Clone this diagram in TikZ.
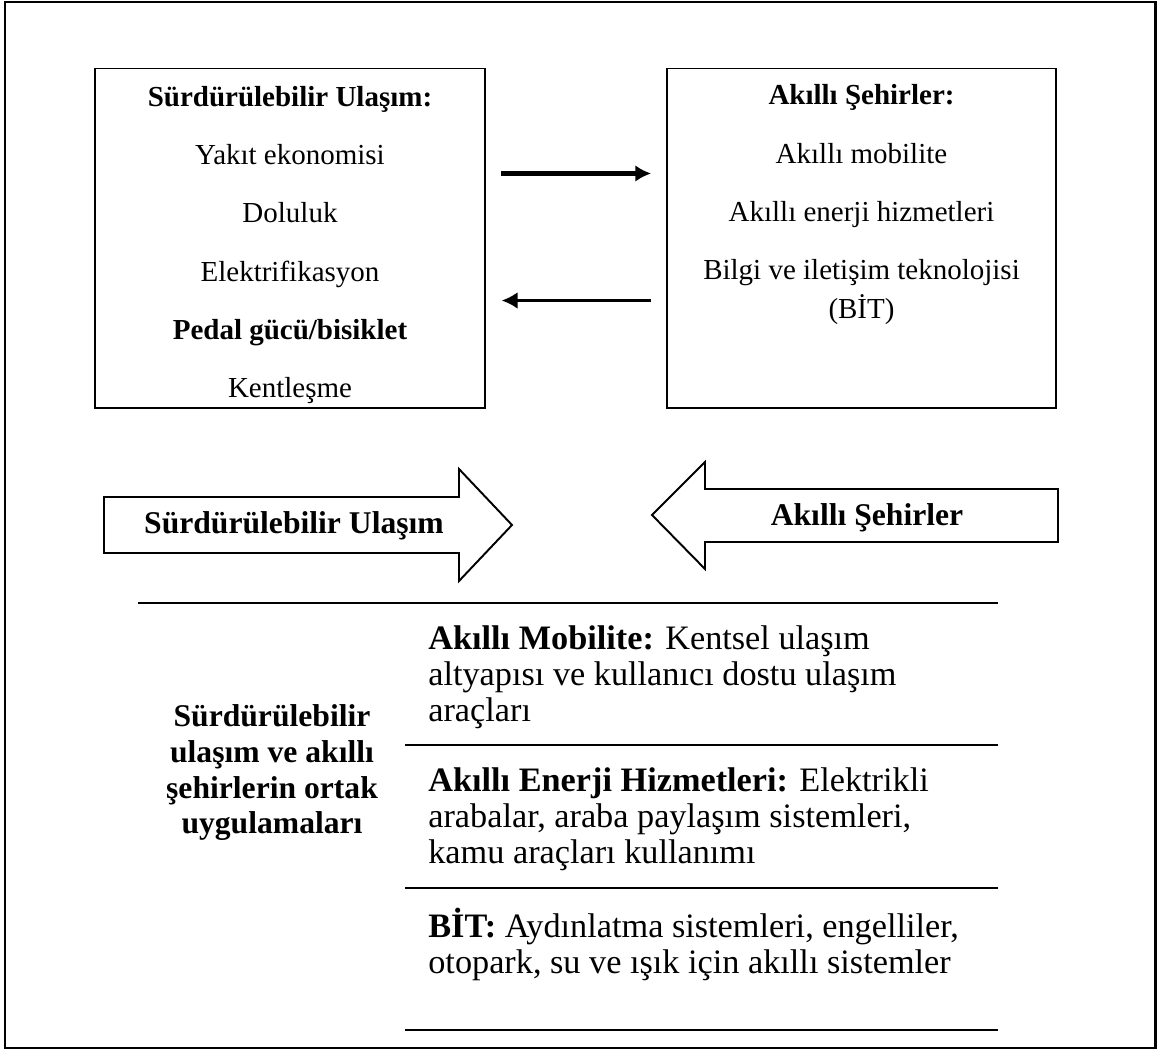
\documentclass[tikz,border=0pt]{standalone}
\usepackage{fontspec}
\setmainfont{Liberation Serif}
\usepackage{tikz}
\usetikzlibrary{arrows.meta,positioning}

\begin{document}
\begin{tikzpicture}[
    x=0.02cm, y=-0.02cm,
    >={Latex[length=9pt,width=9.5pt]},
    block/.style={
		rectangle,
		draw=black,
		line width=1.1pt,
		minimum width=7.8cm,
		minimum height=6.8cm,
		inner sep=0pt
	},
	itemtext/.style={
		inner sep=0pt,
		align=center,
		font=\fontsize{16.5}{33.2}\selectfont
	},
	bigarrow/.style={
		draw=black,
		line width=1.1pt,
		fill=white
	},
	arrowtext/.style={
		inner sep=0pt,
		font=\fontsize{18}{20}\selectfont\bfseries
	},
	rowtext/.style={
		anchor=west,
		inner sep=0pt,
		align=left,
		font=\fontsize{19.5}{20.5}\selectfont
	},
	rule/.style={
		line width=1.7pt
	}
  ]
    \useasboundingbox (0,0) rectangle (1160,1057);
    \draw[line width=1.7pt] (5,2) rectangle (1155,1048);

    % We start by placing the blocks
  \node [block] (sust) at (290,238.5) {};
  \node [itemtext] (susttext) at (290,245)
 {%
  \textbf{Sürdürülebilir Ulaşım:}\\
  Yakıt ekonomisi\\
  Doluluk\\
  Elektrifikasyon\\
  \textbf{Pedal gücü/bisiklet}\\
  Kentleşme
 };

  \node [block, minimum width=7.78cm] (smart) at (861.5,238.5) {};
  \node [itemtext] (smarttext) at (861.5,205)
 {%
  \textbf{Akıllı Şehirler:}\\
  Akıllı mobilite\\
  Akıllı enerji hizmetleri\\
  Bilgi ve iletişim teknolojisi\\[-11pt]
  (BİT)
 };

 \draw [->, line width=2.3pt, shorten <=8.5pt, shorten >=8.5pt] ([yshift=37pt]sust.east) -- ([yshift=37pt]smart.west);
 \draw [->, line width=1.4pt, shorten <=8.5pt, shorten >=9pt] ([yshift=-35.3pt]smart.west) -- ([yshift=-35.3pt]sust.east);

    % the two wide arrows
 \draw [bigarrow] (104,497) -- (459,497) -- (459,469) -- (512,525) -- (459,581) -- (459,553) -- (104,553) -- cycle;
 \node [arrowtext] (sustarrow) at (294,526) {Sürdürülebilir Ulaşım};
 \draw [bigarrow] (1058,489) -- (705,489) -- (705,462) -- (652,515) -- (705,569) -- (705,542) -- (1058,542) -- cycle;
 \node [arrowtext] (smartarrow) at (867,518) {Akıllı Şehirler};

    % common applications
 \draw [rule] (138,603) -- (998,603);
 \draw [rule] (405,745) -- (998,745);
 \draw [rule] (405,888) -- (998,888);
 \draw [rule] (405,1030) -- (998,1030);

 \node [inner sep=0pt, align=center, font=\fontsize{18}{20.3}\selectfont\bfseries] (common) at (272,773)
 {%
  Sürdürülebilir\\
  ulaşım ve akıllı\\
  şehirlerin ortak\\
  uygulamaları
 };

 \node [rowtext] (mobility) at (428,677)
 {%
  \textbf{Akıllı Mobilite:} Kentsel ulaşım\\
  altyapısı ve kullanıcı dostu ulaşım\\
  araçları
 };
 \node [rowtext] (energy) at (428,819)
 {%
  \textbf{Akıllı Enerji Hizmetleri:} Elektrikli\\
  arabalar, araba paylaşım sistemleri,\\
  kamu araçları kullanımı
 };
 \node [rowtext] (ict) at (428,944)
 {%
  \textbf{BİT:} Aydınlatma sistemleri, engelliler,\\
  otopark, su ve ışık için akıllı sistemler
 };

\end{tikzpicture}
\end{document}
